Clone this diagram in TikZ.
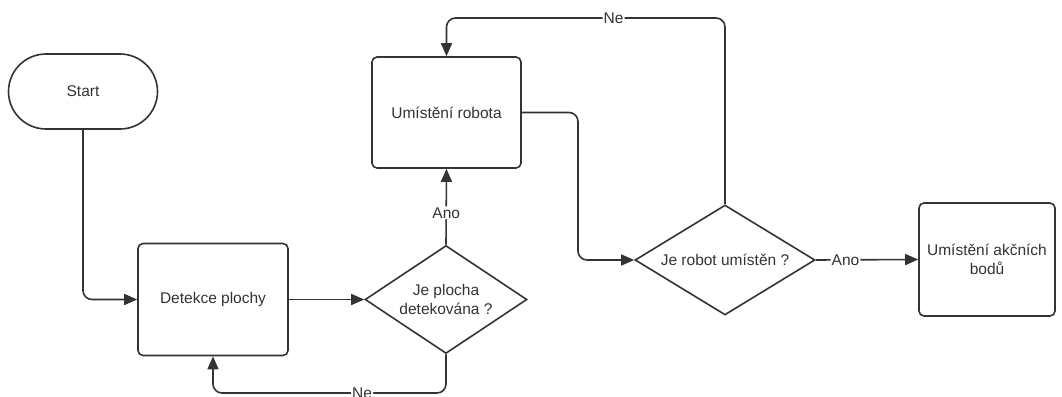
\documentclass[tikz,border=0pt]{standalone}
\usepackage{fontspec}
\setmainfont{Liberation Sans}
\usetikzlibrary{arrows.meta,shapes.geometric,shapes.misc}
\definecolor{ink}{HTML}{333333}
\begin{document}
\begin{tikzpicture}[x=1pt,y=-1pt,
  every node/.style={font=\fontsize{15.5}{19}\selectfont, text=ink},
  box/.style={draw=ink, line width=1.6pt, rounded corners=5pt, minimum width=#1, minimum height=112pt, inner sep=0pt, align=center},
  term/.style={draw=ink, line width=1.6pt, rounded rectangle, minimum width=149pt, minimum height=75pt, inner sep=0pt},
  decision/.style={draw=ink, line width=1.6pt, diamond, inner sep=0pt},
  caption/.style={align=center, inner sep=0pt},
  flow/.style={draw=ink, line width=1.6pt, rounded corners=9pt, -{Triangle[length=13pt,width=11pt]}},
  lbl/.style={fill=white, inner sep=1pt}]
\useasboundingbox (0,0) rectangle (1062,396);

% blocks
\node[term] (start) at (83,91.5) {Start};
\node[box=150pt] (det) at (213,299.5) {Detekce plochy};
\node[decision, minimum width=162pt, minimum height=108pt] (q1) at (446,299.5) {};
\node[caption] (q1t) at (q1) {Je plocha\\detekována ?};
\node[box=149pt, minimum height=111pt] (rob) at (446.5,112.5) {Umístění robota};
\node[decision, minimum width=180pt, minimum height=110pt] (q2) at (725,260) {};
\node[caption] (q2t) at (q2) {Je robot umístěn ?};
\node[box=136pt, minimum height=113pt] (akc) at (987,259.5) {Umístění akčních\\bodů};

% routing points
\coordinate (bot) at (0,393);
\coordinate (top) at (0,18);
\coordinate (mid) at (578,0);

% connectors
\draw[flow] (start.south) |- (det.west);
\draw[flow] (det.east) -- (q1.west);
\draw[flow] (q1.south) -- (q1.south |- bot) -| node[lbl, pos=0.18] {Ne} (det.south);
\draw[flow] (q1.north) -- node[lbl, pos=0.42] {Ano} (rob.south);
\draw[flow] (rob.east) -| (mid |- q2.west) -- (q2.west);
\draw[flow] (q2.north) -- (q2.north |- top) -| node[lbl, pos=0.2] {Ne} (rob.north);
\draw[flow] (q2.east) -- node[lbl, pos=0.29] {Ano} (akc.west);
\end{tikzpicture}
\end{document}
